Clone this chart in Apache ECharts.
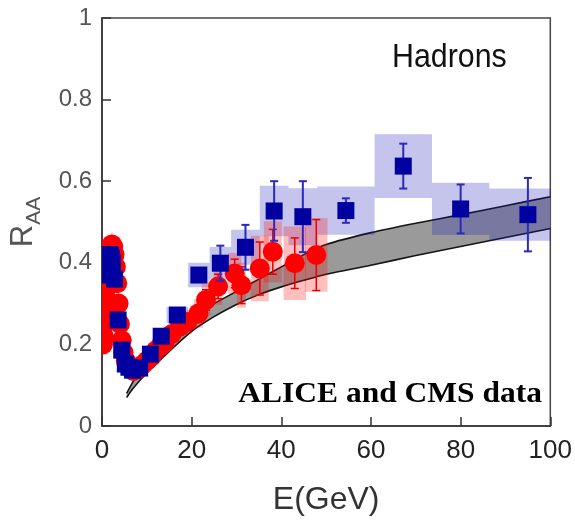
<!DOCTYPE html>
<html><head><meta charset="utf-8">
<script src="https://cdn.jsdelivr.net/npm/echarts@6/dist/echarts.min.js"></script>
<style>html,body{margin:0;padding:0;background:#fff}#c{width:575px;height:521px}</style>
</head><body><div id="c"></div>
<script>
// ---- tick labels ----
const xTickValues = [0, 20, 40, 60, 80, 100];
const xTickLabels = ['0', '20', '40', '60', '80', '100'];
const yTickValues = [0, 0.2, 0.4, 0.6, 0.8, 1];
const yTickLabels = ['0', '0.2', '0.4', '0.6', '0.8', '1'];

// ---- theory band ----
const bandE    = [5.5, 7, 10, 15, 20, 25, 30, 35, 40, 45, 50, 60, 70, 80, 90, 100];
const bandLow  = [0.07, 0.093, 0.13, 0.183, 0.232, 0.268, 0.298, 0.322, 0.341, 0.357, 0.372, 0.394, 0.418, 0.44, 0.462, 0.484];
const bandHigh = [0.08, 0.11, 0.16, 0.22, 0.265, 0.30, 0.33, 0.36, 0.39, 0.42, 0.445, 0.474, 0.497, 0.518, 0.54, 0.562];

// ---- ALICE (red circles) ----
const redE = [0.2,0.4,0.6,0.8,1.0,1.2,1.4,1.6,1.8,2.0,
  2.2,2.5,2.8,3.1,3.4,3.7,4.0,4.4,4.8,5.3,
  6.0,7.0,8.0,9.0,10.0,11.0,12.0,13.0,14.0,
  15.5,17.4,19.0,
  21.5,23.2,25.9,29.6,31.1,35.2,38.1,43.0,47.8];
const redR = [0.20,0.22,0.25,0.28,0.31,0.34,0.37,0.40,0.42,0.44,
  0.445,0.44,0.42,0.39,0.35,0.30,0.25,0.21,0.18,0.16,
  0.145,0.135,0.14,0.15,0.16,0.17,0.185,0.195,0.205,
  0.225,0.244,0.255,
  0.276,0.309,0.342,0.374,0.345,0.386,0.427,0.399,0.419];
const redStat = [0.005,0.005,0.005,0.005,0.005,0.005,0.005,0.005,0.005,0.005,
  0.005,0.005,0.005,0.005,0.005,0.005,0.005,0.005,0.005,0.005,
  0.006,0.006,0.006,0.006,0.006,0.006,0.006,0.006,0.006,
  0.008,0.012,0.015,
  0.02,0.025,0.03,0.035,0.045,0.065,0.055,0.062,0.087];
const redSys = [0.03,0.03,0.03,0.03,0.03,0.03,0.03,0.03,0.03,0.03,
  0.03,0.03,0.03,0.03,0.03,0.03,0.03,0.03,0.03,0.03,
  0.02,0.02,0.02,0.02,0.02,0.02,0.02,0.02,0.02,
  0.025,0.028,0.03,
  0.035,0.04,0.045,0.05,0.055,0.08,0.075,0.09,0.09];
const redHalfBin = [0.1,0.1,0.1,0.1,0.1,0.1,0.1,0.1,0.1,0.1,
  0.15,0.15,0.15,0.15,0.15,0.15,0.2,0.2,0.25,0.3,
  0.5,0.5,0.5,0.5,0.5,0.5,0.5,0.5,0.5,
  0.75,1,1,
  1,1,1,1.5,1,2,2,2.5,2.5];

// ---- CMS (blue squares) ----
const blueE = [0.55,0.65,0.75,0.85,0.95,1.05,1.15,1.3,1.5,1.7,1.9,2.1,2.3,2.8,
  3.6,4.4,5.2,6.0,6.8,8.4,10.8,13.2,16.8,
  21.6,26.4,32.0,38.4,44.8,54.4,67.2,80.0,95.0];
const blueR = [0.37,0.38,0.39,0.40,0.405,0.41,0.415,0.418,0.42,0.42,0.418,0.41,0.40,0.36,
  0.26,0.186,0.152,0.144,0.137,0.142,0.176,0.22,0.272,
  0.37,0.399,0.438,0.527,0.513,0.528,0.637,0.532,0.518];
const blueStat = [0.004,0.004,0.004,0.004,0.004,0.004,0.004,0.004,0.004,0.004,0.004,0.004,0.004,0.004,
  0.005,0.005,0.005,0.005,0.005,0.005,0.005,0.005,0.005,
  0.015,0.043,0.055,0.073,0.087,0.03,0.055,0.06,0.09];
const blueSys = [0.03,0.03,0.03,0.03,0.03,0.03,0.03,0.03,0.03,0.03,0.03,0.03,0.03,0.03,
  0.02,0.02,0.02,0.02,0.02,0.02,0.02,0.02,0.02,
  0.03,0.04,0.043,0.062,0.07,0.059,0.078,0.064,0.064];
const blueBinLo = [0.5,0.6,0.7,0.8,0.9,1.0,1.1,1.2,1.4,1.6,1.8,2.0,2.2,2.4,
  3.2,4.0,4.8,5.6,6.4,7.2,9.6,12.0,14.4,
  19.2,24.0,28.8,35.2,41.6,48.0,60.8,73.6,86.4];
const blueBinHi = [0.6,0.7,0.8,0.9,1.0,1.1,1.2,1.4,1.6,1.8,2.0,2.2,2.4,3.2,
  4.0,4.8,5.6,6.4,7.2,9.6,12.0,14.4,19.2,
  24.0,28.8,35.2,41.6,48.0,60.8,73.6,86.4,103.6];

// ---- rendering helpers ----
function bandItem(params, api) {
  if (params.dataIndex !== 0) return null;
  const lo = bandE.map((e, i) => api.coord([e, bandLow[i]]));
  const hi = bandE.map((e, i) => api.coord([e, bandHigh[i]]));
  const poly = lo.concat(hi.slice().reverse());
  const edge = { stroke: '#151515', lineWidth: 1.6, fill: null };
  return { type: 'group', children: [
    { type: 'polygon', shape: { points: poly }, style: { fill: '#9a9a9a' } },
    { type: 'polyline', shape: { points: lo, smooth: 0.2 }, style: edge },
    { type: 'polyline', shape: { points: hi, smooth: 0.2 }, style: edge }
  ] };
}
function boxItem(params, api) {
  const p1 = api.coord([api.value(0), api.value(3)]);
  const p2 = api.coord([api.value(1), api.value(2)]);
  return { type: 'rect', shape: { x: p1[0], y: p1[1], width: p2[0] - p1[0], height: p2[1] - p1[1] },
    style: { fill: api.visual('color') } };
}
function errItem(color, capW, lw) {
  return function (params, api) {
    const top = api.coord([api.value(0), api.value(2)]);
    const bot = api.coord([api.value(0), api.value(1)]);
    const st = { stroke: color, lineWidth: lw };
    return { type: 'group', children: [
      { type: 'line', shape: { x1: top[0], y1: top[1], x2: bot[0], y2: bot[1] }, style: st },
      { type: 'line', shape: { x1: top[0] - capW, y1: top[1], x2: top[0] + capW, y2: top[1] }, style: st },
      { type: 'line', shape: { x1: bot[0] - capW, y1: bot[1], x2: bot[0] + capW, y2: bot[1] }, style: st }
    ] };
  };
}
function circleItem(params, api) {
  const p = api.coord([api.value(0), api.value(1)]);
  return { type: 'circle', shape: { cx: p[0], cy: p[1], r: 10 }, style: { fill: '#ff0000' } };
}
function squareItem(params, api) {
  const p = api.coord([api.value(0), api.value(1)]);
  const s = 17;
  return { type: 'rect', shape: { x: p[0] - s / 2, y: p[1] - s / 2, width: s, height: s }, style: { fill: '#0000a0' } };
}

const chart = echarts.init(document.getElementById('c'), null, { renderer: 'canvas' });
const SANS = 'Liberation Sans, Arial, sans-serif';

const option = {
  animation: false,
  backgroundColor: '#fff',
  grid: { left: 102, right: 24, top: 18, bottom: 93, show: true, borderColor: '#444', borderWidth: 1.5 },
  xAxis: {
    type: 'value', min: 0, max: 100, interval: 20,
    name: 'E(GeV)', nameLocation: 'middle', nameGap: 58,
    nameTextStyle: { fontFamily: SANS, fontSize: 32, color: '#333' },
    axisLine: { lineStyle: { color: '#333', width: 1.5 } },
    axisTick: { inside: true, length: 9, lineStyle: { color: '#333', width: 1.5 } },
    axisLabel: { fontFamily: SANS, fontSize: 26, color: '#222', margin: 12,
      formatter: v => xTickLabels[xTickValues.indexOf(Math.round(v))] },
    splitLine: { show: false }
  },
  yAxis: {
    type: 'value', min: 0, max: 1, interval: 0.2,
    name: '{r|R}{s|AA}', nameLocation: 'middle', nameRotate: 90, nameGap: 57,
    nameTextStyle: { rich: {
      r: { fontFamily: SANS, fontSize: 31, color: '#555', padding: [0, 0, 6, 0], verticalAlign: 'bottom' },
      s: { fontFamily: SANS, fontSize: 21, color: '#555', verticalAlign: 'bottom' }
    } },
    axisLine: { show: true, lineStyle: { color: '#333', width: 1.5 } },
    axisTick: { show: true, inside: true, length: 9, lineStyle: { color: '#333', width: 1.5 } },
    axisLabel: { fontFamily: SANS, fontSize: 24, color: '#555', margin: 10,
      formatter: v => yTickLabels[yTickValues.indexOf(Math.round(v * 10) / 10)] },
    splitLine: { show: false }
  },
  graphic: [
    { type: 'text', x: 392, y: 41, scaleX: 0.92, silent: true, z: 100,
      style: { text: 'Hadrons', font: '33px Liberation Sans', fill: '#111', align: 'left', verticalAlign: 'top' } },
    { type: 'text', x: 542, y: 394, scaleX: 1.05, silent: true, z: 100,
      style: { text: 'ALICE and CMS data', font: 'bold 30px Liberation Serif', fill: '#000', align: 'right', verticalAlign: 'middle' } }
  ],
  series: [
    { type: 'custom', name: 'theory', clip: true, silent: true, z: 1,
      renderItem: bandItem, encode: { x: 0, y: [1, 2] },
      data: bandE.map((e, i) => [e, bandLow[i], bandHigh[i]]) },
    { type: 'custom', name: 'blueSys', clip: true, silent: true, itemStyle: { color: 'rgba(20,20,180,0.25)' },
      renderItem: boxItem, encode: { x: [0, 1], y: [2, 3] },
      data: blueE.map((e, i) => [blueBinLo[i], blueBinHi[i], blueR[i] - blueSys[i], blueR[i] + blueSys[i]]) },
    { type: 'custom', name: 'redSys', clip: true, silent: true, itemStyle: { color: 'rgba(255,0,0,0.25)' },
      renderItem: boxItem, encode: { x: [0, 1], y: [2, 3] },
      data: redE.map((e, i) => [e - redHalfBin[i], e + redHalfBin[i], redR[i] - redSys[i], redR[i] + redSys[i]]) },
    { type: 'custom', name: 'redErr', clip: true, silent: true,
      renderItem: errItem('#e60000', 4, 1.5), encode: { x: 0, y: [1, 2] },
      data: redE.map((e, i) => [e, redR[i] - redStat[i], redR[i] + redStat[i]]) },
    { type: 'custom', name: 'ALICE', clip: true, silent: true,
      renderItem: circleItem, encode: { x: 0, y: 1 },
      data: redE.map((e, i) => [e, redR[i]]) },
    { type: 'custom', name: 'blueErr', clip: true, silent: true,
      renderItem: errItem('#2a2ac0', 4, 2), encode: { x: 0, y: [1, 2] },
      data: blueE.map((e, i) => [e, blueR[i] - blueStat[i], blueR[i] + blueStat[i]]) },
    { type: 'custom', name: 'CMS', clip: true, silent: true,
      renderItem: squareItem, encode: { x: 0, y: 1 },
      data: blueE.map((e, i) => [e, blueR[i]]) }
  ]
};
chart.setOption(option);
</script>
</body></html>
